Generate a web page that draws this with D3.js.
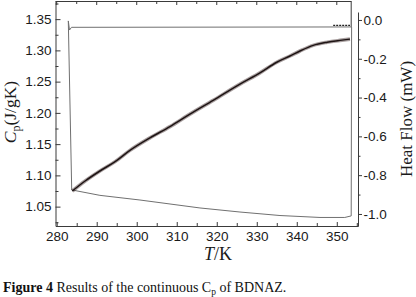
<!DOCTYPE html>
<html>
<head>
<meta charset="utf-8">
<script src="https://cdn.jsdelivr.net/npm/d3@7"></script>
<style>
  body { margin: 0; background: #fff; }
  svg { display: block; }
</style>
</head>
<body>
<div id="chart"></div>
<script>
// Cp trace (J/gK)
const cpTemps = [283.9, 287.1, 290.8, 294.6, 298.3, 303.3, 308.3, 313.3, 319.1, 325.8, 330.8, 335.0, 338.3, 340.8, 344.1, 347.6, 350.8, 353.3];
const cpValues = [1.075, 1.091, 1.107, 1.122, 1.140, 1.160, 1.178, 1.198, 1.220, 1.246, 1.264, 1.281, 1.291, 1.299, 1.308, 1.313, 1.316, 1.318];

// heat flow trace (mW)
const hfTemps = [353.6, 283.7, 283.2, 282.9, 283.75, 290.8, 300.8, 315.8, 325.8, 335.8, 345.8, 352.0, 353.6, 353.7];
const hfValues = [-0.036, -0.038, -0.052, -0.005, -0.876, -0.904, -0.928, -0.969, -0.990, -1.008, -1.018, -1.018, -1.010, -0.036];

// short dark piece at the top right
const tailTemps = [349.1, 353.3];
const tailValues = [-0.028, -0.028];

const xTicks = [280, 290, 300, 310, 320, 330, 340, 350];
const cpTicks = [1.05, 1.10, 1.15, 1.20, 1.25, 1.30, 1.35];
const hfTicks = [0.0, -0.2, -0.4, -0.6, -0.8, -1.0];

const W = 416, H = 297;
const mLeft = 55.5, mRight = 358, mTop = 1, mBottom = 226;

const svg = d3.select("#chart").append("svg")
  .attr("width", W).attr("height", H);

const x = d3.scaleLinear().domain([279.7, 355.3]).range([mLeft, mRight]);
const yCp = d3.scaleLinear().domain([1.019, 1.379]).range([mBottom, mTop]);
const yHf = d3.scaleLinear().domain([-1.062, 0.041]).range([mBottom, 12]);

const axisColor = "#3a3a3a";
const tickFont = "13.5px 'Liberation Sans', Arial, sans-serif";

function styleAxis(g) {
  g.selectAll("path, line").attr("stroke", axisColor).attr("stroke-width", 1);
  g.selectAll("text").style("font", tickFont).attr("fill", "#1a1a1a");
}

// bottom axis
svg.append("g")
  .attr("transform", `translate(0,${mBottom})`)
  .call(d3.axisBottom(x).tickValues(xTicks).tickSize(-4).tickSizeOuter(0).tickPadding(5))
  .call(styleAxis);
svg.append("g")
  .attr("transform", `translate(0,${mBottom})`)
  .call(d3.axisBottom(x).tickValues(xTicks.map(d => d + 5)).tickSize(-3).tickSizeOuter(0).tickFormat(""))
  .call(styleAxis)
  .call(g => g.select(".domain").remove());

// top border with ticks
svg.append("line")
  .attr("x1", mLeft).attr("x2", x(353.6)).attr("y1", mTop + 0.5).attr("y2", mTop + 0.5)
  .attr("stroke", axisColor);
svg.append("line")
  .attr("x1", x(353.6)).attr("x2", x(353.6)).attr("y1", mTop).attr("y2", yHf(-0.036))
  .attr("stroke", axisColor);
svg.append("g").selectAll("line")
  .data(d3.range(280, 351, 5))
  .join("line")
  .attr("x1", d => x(d)).attr("x2", d => x(d))
  .attr("y1", mTop).attr("y2", d => mTop + (d % 10 === 0 ? 4 : 3))
  .attr("stroke", axisColor);

// left axis
svg.append("g")
  .attr("transform", `translate(${mLeft},0)`)
  .call(d3.axisLeft(yCp).tickValues(cpTicks).tickSize(-5).tickSizeOuter(0).tickPadding(4)
    .tickFormat(d => d.toFixed(2)))
  .call(styleAxis);
svg.append("g")
  .attr("transform", `translate(${mLeft},0)`)
  .call(d3.axisLeft(yCp).tickValues(cpTicks.map(d => d - 0.025).concat([1.375])).tickSize(-3).tickSizeOuter(0).tickFormat(""))
  .call(styleAxis)
  .call(g => g.select(".domain").remove());

// right axis
svg.append("g")
  .attr("transform", `translate(${mRight},0)`)
  .call(d3.axisRight(yHf).tickValues(hfTicks).tickSize(4).tickSizeOuter(0).tickPadding(1.5)
    .tickFormat(d => d.toFixed(1)))
  .call(styleAxis);
svg.append("g")
  .attr("transform", `translate(${mRight},0)`)
  .call(d3.axisRight(yHf).tickValues(hfTicks.map(d => d - 0.1).filter(d => d > -1.06)).tickSize(2.5).tickSizeOuter(0).tickFormat(""))
  .call(styleAxis)
  .call(g => g.select(".domain").remove());

// heat flow line
const hfLine = d3.line().x(d => x(d[0])).y(d => yHf(d[1]));
svg.append("path")
  .datum(hfTemps.map((t, i) => [t, hfValues[i]]))
  .attr("d", hfLine)
  .attr("fill", "none")
  .attr("stroke", "#707070")
  .attr("stroke-width", 1);

svg.append("path")
  .datum(tailTemps.map((t, i) => [t, tailValues[i]]))
  .attr("d", hfLine)
  .attr("fill", "none")
  .attr("stroke", "#222")
  .attr("stroke-width", 1.4)
  .attr("stroke-dasharray", "2,1");

// Cp line (scatter band drawn as a faint wide stroke under the trace)
const cpLine = d3.line().curve(d3.curveMonotoneX).x(d => x(d[0])).y(d => yCp(d[1]));
svg.append("path")
  .datum(cpTemps.map((t, i) => [t, cpValues[i]]))
  .attr("d", cpLine)
  .attr("fill", "none")
  .attr("stroke", "#3d2b2b")
  .attr("stroke-width", 3.6)
  .attr("stroke-opacity", 0.45);
svg.append("path")
  .datum(cpTemps.map((t, i) => [t, cpValues[i]]))
  .attr("d", cpLine)
  .attr("fill", "none")
  .attr("stroke", "#1e1414")
  .attr("stroke-width", 1.5);

// axis titles
const serif = "'Liberation Serif', 'Times New Roman', serif";

const yl = svg.append("text")
  .attr("transform", "translate(16,112) rotate(-90)")
  .attr("text-anchor", "middle")
  .style("font-family", serif).style("font-size", "17.5px").attr("fill", "#1a1a1a");
yl.append("tspan").style("font-style", "italic").text("C");
yl.append("tspan").attr("dy", 4).style("font-size", "12px").text("p");
yl.append("tspan").attr("dy", -4).text("(J/gK)");

svg.append("text")
  .attr("transform", "translate(412,119) rotate(-90)")
  .attr("text-anchor", "middle")
  .style("font-family", serif).style("font-size", "17px").attr("fill", "#1a1a1a")
  .text("Heat Flow (mW)");

const xl = svg.append("text")
  .attr("x", 218).attr("y", 260)
  .attr("text-anchor", "middle")
  .style("font-family", serif).style("font-size", "18px").attr("fill", "#1a1a1a");
xl.append("tspan").style("font-style", "italic").text("T");
xl.append("tspan").text("/K");

// caption
const cap = svg.append("text")
  .attr("x", 3).attr("y", 291.5)
  .style("font-family", serif).style("font-size", "14px").attr("fill", "#111");
cap.append("tspan").style("font-weight", "bold").text("Figure 4");
cap.append("tspan").text(" Results of the continuous C");
cap.append("tspan").attr("dy", 3).style("font-size", "9.5px").text("p");
cap.append("tspan").attr("dy", -3).text(" of BDNAZ.");
</script>
</body>
</html>
